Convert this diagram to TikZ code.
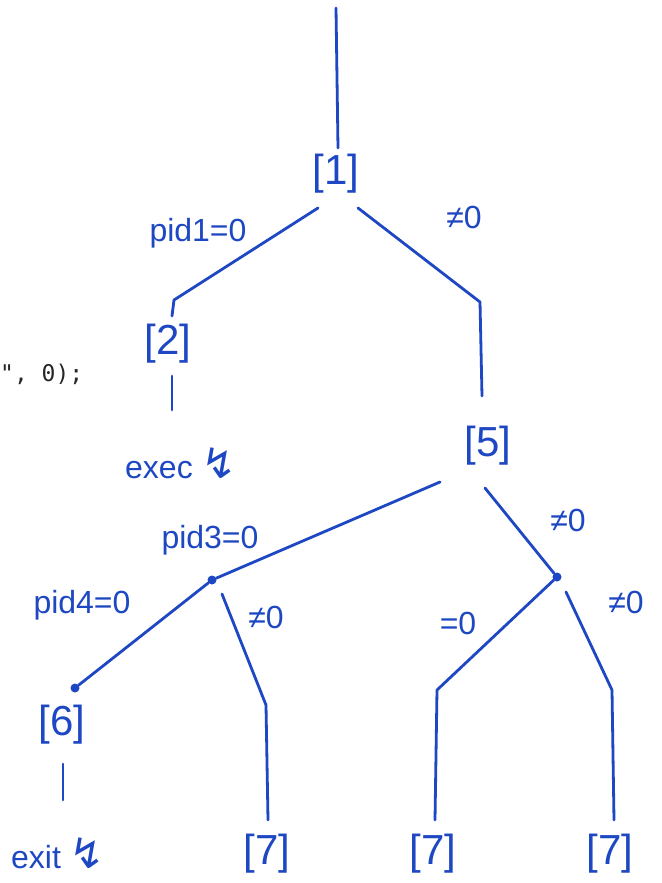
\documentclass[tikz,border=0pt]{standalone}
\usepackage{fontspec}
\setmainfont{Liberation Sans}
\newfontfamily\dejavu{DejaVu Sans}
\newfontfamily\monofont{DejaVu Sans Mono}
\definecolor{ink}{RGB}{30,72,195}
\begin{document}
\begin{tikzpicture}[x=1pt,y=-1pt,
  wire/.style={draw=ink,line width=2.8pt,line cap=round,line join=round},
  lbl/.style={text=ink,font=\fontsize{32}{34}\selectfont,inner sep=1pt},
  brk/.style={text=ink,font=\fontsize{42}{44}\selectfont,inner sep=1pt},
  blob/.style={circle,fill=ink,inner sep=0pt,minimum size=9pt}]
\useasboundingbox[fill=white] (0,0) rectangle (661,883);
% stray code fragment at the left edge
\node[anchor=west,font=\monofont\fontsize{23}{25}\selectfont,text=black!85,inner sep=0pt] (code) at (0,374) {", 0);};
% nodes
\node[brk] (n1) at (336,174) {[1]};
\node[brk] (n2) at (168,344) {[2]};
\node[brk] (n5) at (488,446) {[5]};
\node[blob] (d3) at (212,580) {};
\node[blob] (d7) at (557,577) {};
\node[blob] (d4) at (75,688) {};
\node[brk] (n6) at (62,725) {[6]};
\node[brk] (n7a) at (267,854) {[7]};
\node[brk] (n7b) at (433,854) {[7]};
\node[brk] (n7c) at (610,854) {[7]};
\node[lbl,anchor=west] (exec) at (124,463) {exec \dejavu\fontsize{42}{44}\selectfont ↯};
\node[lbl,anchor=west] (exit) at (10,853) {exit \dejavu\fontsize{42}{44}\selectfont ↯};
% connector coordinates
\coordinate (top) at (336,8);
\coordinate (t1) at (338,148);
\coordinate (a1) at (318,208);
\coordinate (a2) at (174,300);
\coordinate (a3) at (172,316);
\coordinate (b1) at (358,208);
\coordinate (b2) at (480,302);
\coordinate (b3) at (482,396);
\coordinate (s2a) at (172,376);
\coordinate (s2b) at (172,410);
\coordinate (c1) at (440,482);
\coordinate (e1) at (485,488);
\coordinate (f1) at (222,594);
\coordinate (f2) at (266,705);
\coordinate (f3) at (268,820);
\coordinate (g2) at (437,690);
\coordinate (g3) at (435,820);
\coordinate (h1) at (566,592);
\coordinate (h2) at (612,690);
\coordinate (h3) at (614,820);
\coordinate (s6a) at (63,764);
\coordinate (s6b) at (63,800);
% connectors
\draw[wire] (top) -- (t1);
\draw[wire] (a1) -- (a2) -- (a3);
\draw[wire] (b1) -- (b2) -- (b3);
\draw[wire] (s2a) -- (s2b);
\draw[wire] (c1) -- (d3);
\draw[wire] (e1) -- (d7);
\draw[wire] (d3) -- (d4);
\draw[wire] (f1) -- (f2) -- (f3);
\draw[wire] (d7) -- (g2) -- (g3);
\draw[wire] (h1) -- (h2) -- (h3);
\draw[wire] (s6a) -- (s6b);
% labels
\node[lbl] (l1) at (198,233) {pid1=0};
\node[lbl] (l2) at (464,217) {≠0};
\node[lbl] (l3) at (210,540) {pid3=0};
\node[lbl] (l4) at (568,520) {≠0};
\node[lbl] (l5) at (82,605) {pid4=0};
\node[lbl] (l6) at (266,617) {≠0};
\node[lbl] (l7) at (458,623) {=0};
\node[lbl] (l8) at (626,602) {≠0};
\end{tikzpicture}
\end{document}
